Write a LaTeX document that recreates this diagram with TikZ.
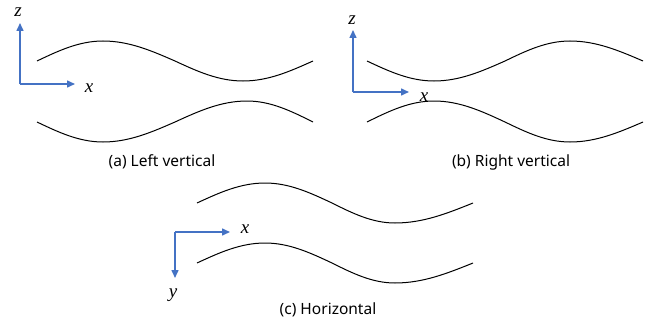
\documentclass[tikz,border=0pt]{standalone}
\usepackage{fontspec}
\setmainfont{Noto Sans}
\newfontfamily\axisfont{Liberation Serif}
\usetikzlibrary{arrows.meta}
\definecolor{axisblue}{RGB}{68,114,196}
\tikzset{
  axisline/.style={axisblue, line width=1.5pt, -{Triangle[length=8pt,width=7pt]}},
  wall/.style={black, line width=1pt},
  axislabel/.style={font=\axisfont\itshape\fontsize{19}{19}\selectfont, inner sep=0pt},
  caption/.style={font=\fontsize{15.5}{17}\selectfont, inner sep=0pt}
}

\begin{document}
\begin{tikzpicture}[x=1pt, y=-1pt]
  \useasboundingbox (0,0) rectangle (652,321);

  % (a) Left vertical
  \coordinate (oa) at (20,84);
  \coordinate (za) at (20,23);
  \coordinate (xa) at (75,84);
  \draw[axisline] (oa) -- (za);
  \draw[axisline] (oa) -- (xa);
  \node[axislabel] (za label) at (18,12) {z};
  \node[axislabel] (xa label) at (89,88) {x};
  \draw[wall] (37,61) sin (103,41) cos (175,61) sin (243,81) cos (313,61);
  \draw[wall] (37,122) sin (103,142) cos (175,122) sin (247,101) cos (313,122);
  \node[caption] (cap a) at (162,162) {(a) Left vertical};

  % (b) Right vertical
  \coordinate (ob) at (353,92);
  \coordinate (zb) at (353,30);
  \coordinate (xb) at (409,92);
  \draw[axisline] (ob) -- (zb);
  \draw[axisline] (ob) -- (xb);
  \node[axislabel] (zb label) at (352,20) {z};
  \node[axislabel] (xb label) at (424,97) {x};
  \draw[wall] (367,61) sin (434,81) cos (505,61) sin (570,41) cos (643,61);
  \draw[wall] (367,122) sin (434,101) cos (505,122) sin (570,142) cos (643,122);
  \node[caption] (cap b) at (511,162) {(b) Right vertical};

  % (c) Horizontal
  \coordinate (oc) at (175,232);
  \coordinate (xc) at (230,232);
  \coordinate (yc) at (175,278);
  \draw[axisline] (oc) -- (xc);
  \draw[axisline] (oc) -- (yc);
  \node[axislabel] (xc label) at (245,229) {x};
  \node[axislabel] (yc label) at (173,295) {y};
  \foreach \dy in {0,60}
    \draw[wall] (197,203+\dy) sin (265,183+\dy) cos (332,203+\dy) sin (395,223+\dy) cos (473,203+\dy);
  \node[caption] (cap c) at (328,310) {(c) Horizontal};
\end{tikzpicture}
\end{document}
